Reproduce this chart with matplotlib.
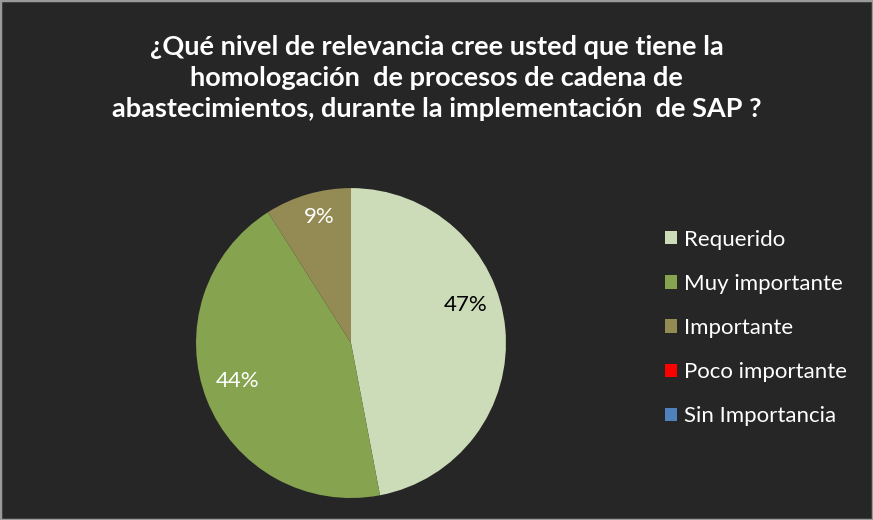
import matplotlib
matplotlib.use("Agg")
import matplotlib.pyplot as plt
import numpy as np
from matplotlib.patches import Rectangle, Patch

categories = ["Requerido", "Muy importante", "Importante", "Poco importante", "Sin Importancia"]
values = [47, 44, 9, 0, 0]
colors = ["#CDDCB8", "#86A350", "#948A54", "#FF0000", "#4F81BD"]
label_colors = ["black", "white", "white", "white", "white"]
title = ("¿Qué nivel de relevancia cree usted que tiene la\n"
         "homologación  de procesos de cadena de\n"
         "abastecimientos, durante la implementación  de SAP ?")

bg = "#262626"
fig = plt.figure(figsize=(8.73, 5.2), dpi=100, facecolor=bg)
fig.patches.append(Rectangle((0, 0), 1, 1, transform=fig.transFigure, fill=False,
                             edgecolor="#9a9a9a", linewidth=2.5))

fig.text(0.5, 0.768, title, ha="center", va="bottom", color="white",
         fontsize=19.5, fontweight="bold", family="Lato", linespacing=1.33)

ax = fig.add_axes([0.2245, 0.0423, 0.3551, 0.596])
ax.set_facecolor(bg)
wedges, texts, autotexts = ax.pie(
    values, colors=colors, startangle=90, counterclock=False,
    autopct=lambda p: f"{p:.0f}%" if p > 0 else "", pctdistance=0.8,
    wedgeprops=dict(linewidth=0), textprops=dict(fontsize=16, family="Lato"))
# small angular nudges so labels sit where the original puts them
nudges = [13, -3, -2, 0, 0]
dists = [0.78, 0.77, 0.84, 0.8, 0.8]
for t, c, w, dn, d in zip(autotexts, label_colors, wedges, nudges, dists):
    t.set_color(c)
    ang = np.deg2rad((w.theta1 + w.theta2) / 2 + dn)
    t.set_position((d * np.cos(ang), d * np.sin(ang)))
ax.set_xlim(-1, 1)
ax.set_ylim(-1, 1)
ax.set_aspect("equal")

handles = [Patch(facecolor=c, edgecolor="none") for c in colors]
leg = fig.legend(handles, categories, loc="upper left", bbox_to_anchor=(0.739, 0.597),
                 frameon=False, handlelength=0.55, handleheight=0.55, handletextpad=0.3,
                 labelspacing=1.09, prop=dict(family="Lato", size=16))
for t in leg.get_texts():
    t.set_color("white")

fig.savefig("out.png", dpi=100, facecolor=bg)
